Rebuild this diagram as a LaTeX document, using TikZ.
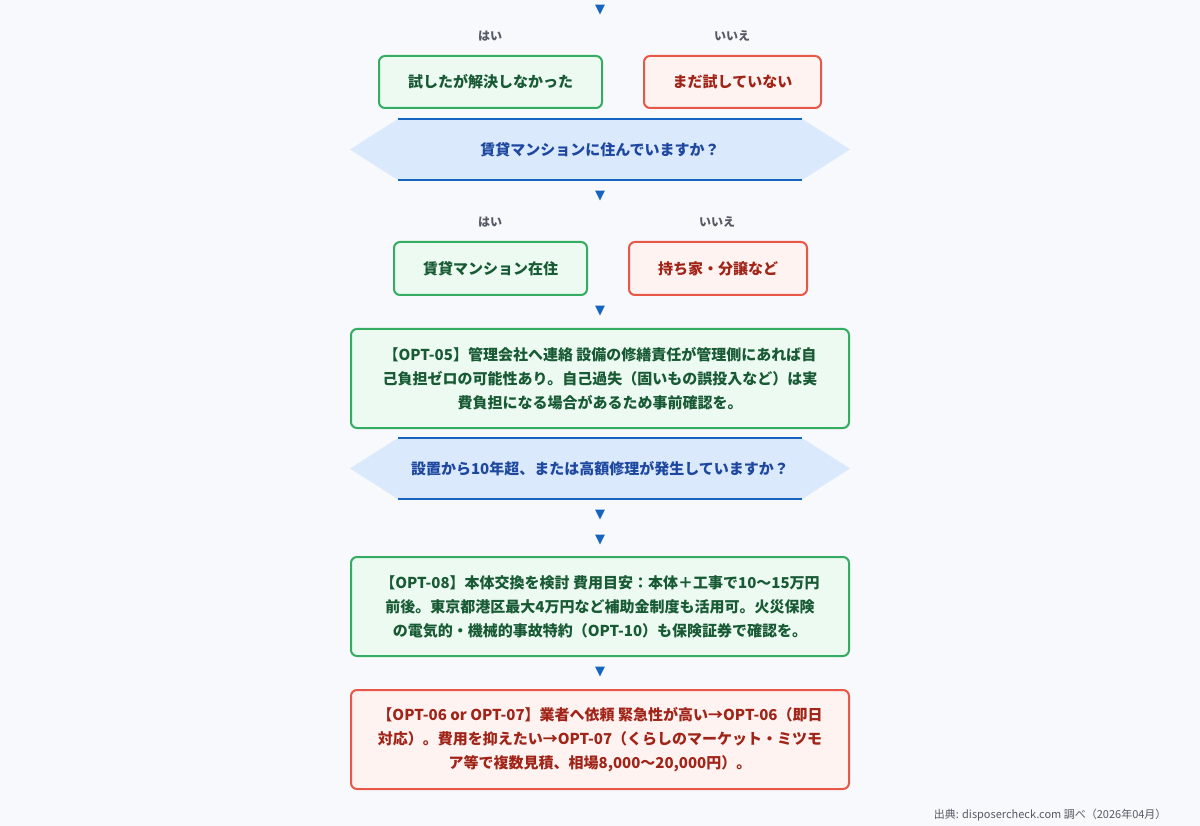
\documentclass[tikz,border=0pt]{standalone}
\usepackage{fontspec}
\setmainfont{Noto Sans CJK JP}
\newfontfamily\symfont{DejaVu Sans}
\definecolor{bg_gray}{RGB}{248,249,252}
\definecolor{yes_line}{RGB}{52,172,98}
\definecolor{yes_fill}{RGB}{236,250,242}
\definecolor{yes_text}{RGB}{24,90,52}
\definecolor{no_line}{RGB}{232,88,72}
\definecolor{no_fill}{RGB}{255,243,241}
\definecolor{no_text}{RGB}{160,36,24}
\definecolor{q_line}{RGB}{21,101,192}
\definecolor{q_fill}{RGB}{218,233,252}
\definecolor{q_text}{RGB}{30,72,160}
\definecolor{lbl_gray}{RGB}{85,90,100}

\begin{document}
\begin{tikzpicture}[x=1pt,y=-1pt]
    \tikzstyle{yes}=[draw=yes_line, fill=yes_fill, text=yes_text, line width=2pt, rounded corners=6pt, font=\fontsize{15}{24}\selectfont\bfseries, align=center]
    \tikzstyle{no}=[draw=no_line, fill=no_fill, text=no_text, line width=2pt, rounded corners=6pt, font=\fontsize{15}{24}\selectfont\bfseries, align=center]
    \tikzstyle{qtext}=[text=q_text, font=\fontsize{15}{18}\selectfont\bfseries]
    \tikzstyle{lbl}=[text=lbl_gray, font=\fontsize{12}{14}\selectfont\bfseries]
    \tikzstyle{tip}=[text=q_line, font=\fontsize{13}{15}\symfont, inner sep=0pt]

    \fill[bg_gray] (0,0) rectangle (1200,826);

    \node[tip] (t1) at (600,10)  {▼};
    \node[lbl] (y1) at (490,36)  {はい};
    \node[lbl] (n1) at (732,36)  {いいえ};
    \node[yes, minimum width=223pt, minimum height=52pt] (b1) at (490.5,82) {試したが解決しなかった};
    \node[no,  minimum width=177pt, minimum height=52pt] (b2) at (732.5,82) {まだ試していない};

    % question 1
    \fill[q_fill] (350,149.5) -- (398,119) -- (802,119) -- (850,149.5) -- (802,180) -- (398,180) -- cycle;
    \draw[q_line, line width=2pt] (398,119) -- (802,119) (398,180) -- (802,180);
    \node[qtext] (q1) at (600,149.5) {賃貸マンションに住んでいますか？};

    \node[tip] (t2) at (600,196) {▼};
    \node[lbl] (y2) at (490,222) {はい};
    \node[lbl] (n2) at (717,222) {いいえ};
    \node[yes, minimum width=193pt, minimum height=53pt] (b3) at (490.5,268.5) {賃貸マンション在住};
    \node[no,  minimum width=178pt, minimum height=53pt] (b4) at (718,268.5) {持ち家・分譲など};

    \node[tip] (t3) at (600,311) {▼};
    \node[yes, minimum width=498pt, minimum height=99pt] (b5) at (600,378.5)
      {【OPT-05】管理会社へ連絡 設備の修繕責任が管理側にあれば自\\己負担ゼロの可能性あり。自己過失（固いもの誤投入など）は実\\費負担になる場合があるため事前確認を。};

    % question 2
    \fill[q_fill] (350,468.5) -- (398,438) -- (802,438) -- (850,468.5) -- (802,499) -- (398,499) -- cycle;
    \draw[q_line, line width=2pt] (398,438) -- (802,438) (398,499) -- (802,499);
    \node[qtext] (q2) at (600,468.5) {設置から10年超、または高額修理が発生していますか？};

    \node[tip] (t4) at (600,515) {▼};
    \node[tip] (t5) at (600,540) {▼};
    \node[yes, minimum width=498pt, minimum height=99pt] (b6) at (600,606.5)
      {【OPT-08】本体交換を検討 費用目安：本体＋工事で10〜15万円\\前後。東京都港区最大4万円など補助金制度も活用可。火災保険\\の電気的・機械的事故特約（OPT-10）も保険証券で確認を。};

    \node[tip] (t6) at (600,672) {▼};
    \node[no, minimum width=498pt, minimum height=99pt] (b7) at (600,739.5)
      {【OPT-06 or OPT-07】業者へ依頼 緊急性が高い→OPT-06（即日\\対応）。費用を抑えたい→OPT-07（くらしのマーケット・ミツモ\\ア等で複数見積、相場8,000〜20,000円）。};

    \node[text=lbl_gray, font=\fontsize{11}{13}\selectfont, anchor=east] (src) at (1170,815) {出典: disposercheck.com 調べ（2026年04月）};
\end{tikzpicture}
\end{document}
